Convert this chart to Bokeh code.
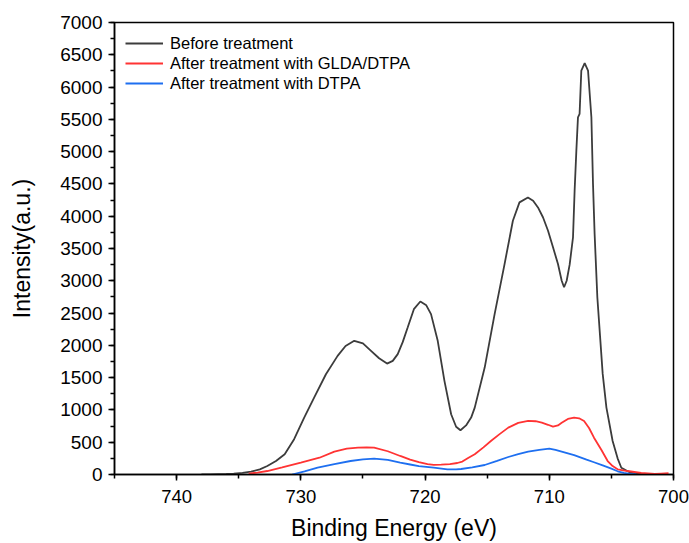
from bokeh.plotting import figure
from bokeh.models import Range1d, SingleIntervalTicker, Legend, LegendItem
from bokeh.embed import file_html
from bokeh.resources import INLINE

# Binding energy (eV) / intensity (a.u.)
before_x = [738.0, 737.3, 736.0, 735.4, 734.7, 734.0, 733.3, 732.7, 732.0, 731.3,
            730.54, 729.73, 728.93, 727.98, 727.04, 726.4, 725.7, 725.0, 724.35, 723.7,
            723.06, 722.6, 722.2, 721.8, 721.4, 720.9, 720.38, 719.9, 719.52, 718.98,
            718.44, 717.9, 717.5, 717.15, 716.7, 716.29, 716.0, 715.2, 714.4, 713.6,
            712.93, 712.4, 711.72, 711.3, 710.91, 710.5, 710.1, 709.7, 709.3, 709.0,
            708.81, 708.6, 708.36, 708.09, 707.96, 707.82, 707.69, 707.56, 707.42, 707.15,
            706.88, 706.61, 706.48, 706.35, 706.13, 705.7, 705.4, 704.9, 704.5, 704.2,
            703.5, 702.5, 702.0]
before_y = [0, 3, 8, 12, 25, 43, 80, 132, 210, 313,
            546, 881, 1191, 1553, 1837, 1990, 2070, 2030, 1915, 1800,
            1718, 1760, 1864, 2050, 2276, 2560, 2679, 2620, 2484, 2070,
            1450, 933, 740, 685, 760, 881, 1036, 1656, 2484, 3259,
            3930, 4214, 4291, 4240, 4136, 3980, 3775, 3520, 3259, 3000,
            2900, 3000, 3250, 3671, 4395, 5016, 5532, 5585, 6256, 6369,
            6256, 5532, 4499, 3724, 2741, 1558, 1036, 519, 250, 105,
            30, 5, 0]

glda_x = [734.2, 733.5, 732.7, 731.5, 730.0, 728.5, 727.3, 726.3, 725.4, 724.7,
          724.1, 723.0, 722.0, 721.2, 720.5, 719.8, 719.3, 718.7, 718.0, 717.4,
          717.0, 716.5, 716.0, 715.3, 714.7, 714.0, 713.3, 712.5, 711.7, 711.1,
          710.6, 710.1, 709.7, 709.3, 709.0, 708.5, 708.0, 707.6, 707.2, 706.8,
          706.4, 705.8, 705.3, 704.9, 704.5, 703.7, 702.6, 701.5, 701.0, 700.4]
glda_y = [12, 30, 54, 110, 183, 260, 354, 400, 416, 420,
          416, 360, 287, 230, 190, 160, 150, 152, 160, 178,
          200, 260, 313, 420, 519, 625, 726, 800, 829, 825,
          803, 770, 741, 760, 800, 860, 881, 870, 829, 720,
          570, 380, 209, 130, 81, 54, 23, 8, 15, 19]

dtpa_x = [730.7, 729.7, 728.65, 727.3, 726.0, 725.0, 724.1, 723.0, 722.0, 721.2,
          720.5, 719.3, 718.2, 717.5, 717.1, 716.2, 715.2, 714.2, 713.3, 712.5,
          711.7, 710.8, 710.0, 709.5, 709.0, 708.0, 707.0, 706.4, 705.7, 705.0,
          704.5, 704.0, 703.5, 703.0]
dtpa_y = [0, 50, 105, 160, 209, 235, 245, 225, 183, 155,
          130, 105, 80, 78, 85, 110, 147, 210, 271, 315,
          353, 380, 400, 380, 355, 300, 230, 190, 140, 90,
          50, 25, 10, 0]

labels = ["Before treatment", "After treatment with GLDA/DTPA", "After treatment with DTPA"]
colors = ["#3c3c3c", "#ff3333", "#1e6ff0"]
x_title = "Binding Energy (eV)"
y_title = "Intensity(a.u.)"

FONT = "Liberation Sans"

p = figure(width=689, height=543, output_backend="svg", toolbar_location=None,
           x_range=Range1d(745, 700), y_range=Range1d(0, 7000),
           min_border_left=114, min_border_right=16, min_border_top=22, min_border_bottom=69)
p.background_fill_color = "white"
p.border_fill_color = "white"
p.grid.visible = False
p.outline_line_color = "black"
p.outline_line_width = 1.5
p.outline_line_alpha = 1

p.xaxis.ticker = SingleIntervalTicker(interval=10, num_minor_ticks=2)
p.yaxis.ticker = SingleIntervalTicker(interval=500, num_minor_ticks=2)
for ax in (p.xaxis[0], p.yaxis[0]):
    ax.axis_line_width = 1.5
    ax.major_tick_line_width = 1.5
    ax.minor_tick_line_width = 1.5
    ax.major_tick_out = 6
    ax.major_tick_in = 0
    ax.minor_tick_out = 4
    ax.minor_tick_in = 0
    ax.major_label_text_font = FONT
    ax.major_label_text_color = "black"
    ax.axis_label_text_font = FONT
    ax.axis_label_text_font_size = "23px"
    ax.axis_label_text_font_style = "normal"
    ax.axis_label_text_color = "black"
p.xaxis.major_label_text_font_size = "18.5px"
p.yaxis.major_label_text_font_size = "19px"
p.xaxis.axis_label = x_title
p.yaxis.axis_label = y_title
p.xaxis.major_label_standoff = 9
p.xaxis.axis_label_standoff = 9
p.yaxis.major_label_standoff = 6
p.yaxis.axis_label_standoff = 22

r1 = p.line(before_x, before_y, line_color=colors[0], line_width=1.8)
r2 = p.line(glda_x, glda_y, line_color=colors[1], line_width=1.8)
r3 = p.line(dtpa_x, dtpa_y, line_color=colors[2], line_width=1.8)

legend = Legend(items=[LegendItem(label=labels[0], renderers=[r1]),
                       LegendItem(label=labels[1], renderers=[r2]),
                       LegendItem(label=labels[2], renderers=[r3])],
                location="top_left", margin=0, padding=11, spacing=0,
                glyph_width=38, glyph_height=20, label_height=20, label_standoff=7,
                label_text_font=FONT, label_text_font_size="16.5px",
                label_text_color="black",
                background_fill_alpha=0, border_line_alpha=0)
p.add_layout(legend)

open("out.html", "w").write(file_html(p, INLINE))
